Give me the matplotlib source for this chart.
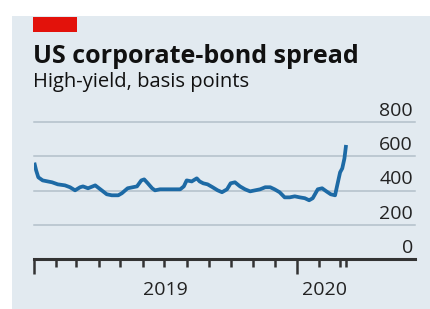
import pandas as pd
import matplotlib.pyplot as plt
import matplotlib.transforms as mtransforms
from matplotlib.patches import Rectangle

plt.rcParams['font.family'] = ['Open Sans', 'DejaVu Sans']

# High-yield spread, basis points
dates = ['2019-01-02', '2019-01-04', '2019-01-07', '2019-01-13', '2019-01-20', '2019-01-26',
         '2019-02-03', '2019-02-13', '2019-02-20', '2019-02-27', '2019-03-06', '2019-03-10',
         '2019-03-17', '2019-03-27', '2019-04-05', '2019-04-12', '2019-04-19', '2019-04-28',
         '2019-05-03', '2019-05-11', '2019-05-18', '2019-05-24', '2019-05-30', '2019-06-03',
         '2019-06-08', '2019-06-14', '2019-06-18', '2019-06-25', '2019-07-05', '2019-07-13',
         '2019-07-23', '2019-07-28', '2019-08-01', '2019-08-08', '2019-08-15', '2019-08-19',
         '2019-08-24', '2019-08-30', '2019-09-06', '2019-09-13', '2019-09-19', '2019-09-26',
         '2019-10-01', '2019-10-07', '2019-10-14', '2019-10-21', '2019-10-28', '2019-11-04',
         '2019-11-11', '2019-11-18', '2019-11-25', '2019-12-01', '2019-12-08', '2019-12-15',
         '2019-12-22', '2019-12-29', '2020-01-05', '2020-01-12', '2020-01-18', '2020-01-23',
         '2020-01-30', '2020-02-05', '2020-02-11', '2020-02-17', '2020-02-23', '2020-02-26',
         '2020-03-01', '2020-03-04', '2020-03-07', '2020-03-09']
spread = [552, 517, 477, 459, 453, 448,
          436, 430, 419, 401, 419, 424,
          413, 430, 401, 378, 372, 372,
          384, 413, 419, 424, 459, 465,
          442, 413, 401, 407, 407, 407,
          407, 424, 459, 453, 471, 453,
          442, 436, 419, 401, 390, 407,
          442, 448, 424, 407, 395, 401,
          407, 419, 419, 407, 390, 360,
          360, 366, 360, 355, 343, 355,
          407, 413, 395, 378, 372, 430,
          506, 529, 587, 655]

y_ticks = [0, 200, 400, 600, 800]
year_labels = ['2019', '2020']
year_label_dates = ['2019-07-02', '2020-02-08']

dates = pd.to_datetime(dates)
W, H = 431, 309

fig = plt.figure(figsize=(W / 100, H / 100), dpi=100)
fig.patch.set_facecolor('white')

# background panel
fig.patches.append(Rectangle((12 / W, 0), 1, 1 - 16 / H, transform=fig.transFigure,
                             facecolor='#e2eaf0', edgecolor='none', zorder=0))
# red tag
fig.patches.append(Rectangle((33 / W, 1 - 32 / H), 44 / W, 15 / H, transform=fig.transFigure,
                             facecolor='#e3120b', edgecolor='none', zorder=1))

fig.text(33 / W, 1 - 63 / H, 'US corporate-bond spread', fontsize=18, fontweight='bold',
         va='baseline', ha='left', color='#111111')
fig.text(33 / W, 1 - 87 / H, 'High-yield, basis points', fontsize=14.5,
         va='baseline', ha='left', color='#111111')

ax = fig.add_axes([34 / W, 1 - 259 / H, (415 - 34) / W, (259 - 122) / H])
ax.set_zorder(5)
ax.set_facecolor('none')
ax.set_xlim(pd.Timestamp('2019-01-01'), pd.Timestamp('2020-06-13'))
ax.set_ylim(0, 800)

for v in y_ticks[1:]:
    ax.axhline(v, color='#b3c0ca', lw=1.1, zorder=1, clip_on=False)
ax.axhline(0, color='#333333', lw=2.2, zorder=3, clip_on=False)

for v in y_ticks:
    ax.text(0.995, v + 12, str(v), transform=ax.get_yaxis_transform(), ha='right',
            va='bottom', fontsize=14, color='#222222')

ax.plot(dates, spread, color='#1d6aa5', lw=2.7, solid_joinstyle='round', zorder=4)

for s in ax.spines.values():
    s.set_visible(False)
ax.set_xticks([])
ax.set_yticks([])

# short ticks for months, long ticks at the start of each year
months = pd.date_range('2019-01-01', '2020-03-01', freq='MS')
short = list(months[months.month != 1]) + [dates[-1]]
long_ = list(months[months.month == 1])
xtrans = ax.get_xaxis_transform()
ax.vlines(short, -0.06, 0, transform=xtrans, color='#333333', lw=1.8, clip_on=False, zorder=3)
ax.vlines(long_, -0.11, 0, transform=xtrans, color='#333333', lw=1.8, clip_on=False, zorder=3)

trans = mtransforms.blended_transform_factory(ax.transData, fig.transFigure)
for lab, d in zip(year_labels, year_label_dates):
    ax.text(pd.Timestamp(d), 1 - 295 / H, lab, transform=trans, ha='center', va='baseline',
            fontsize=14, color='#222222')

plt.savefig('out.png', dpi=100)
